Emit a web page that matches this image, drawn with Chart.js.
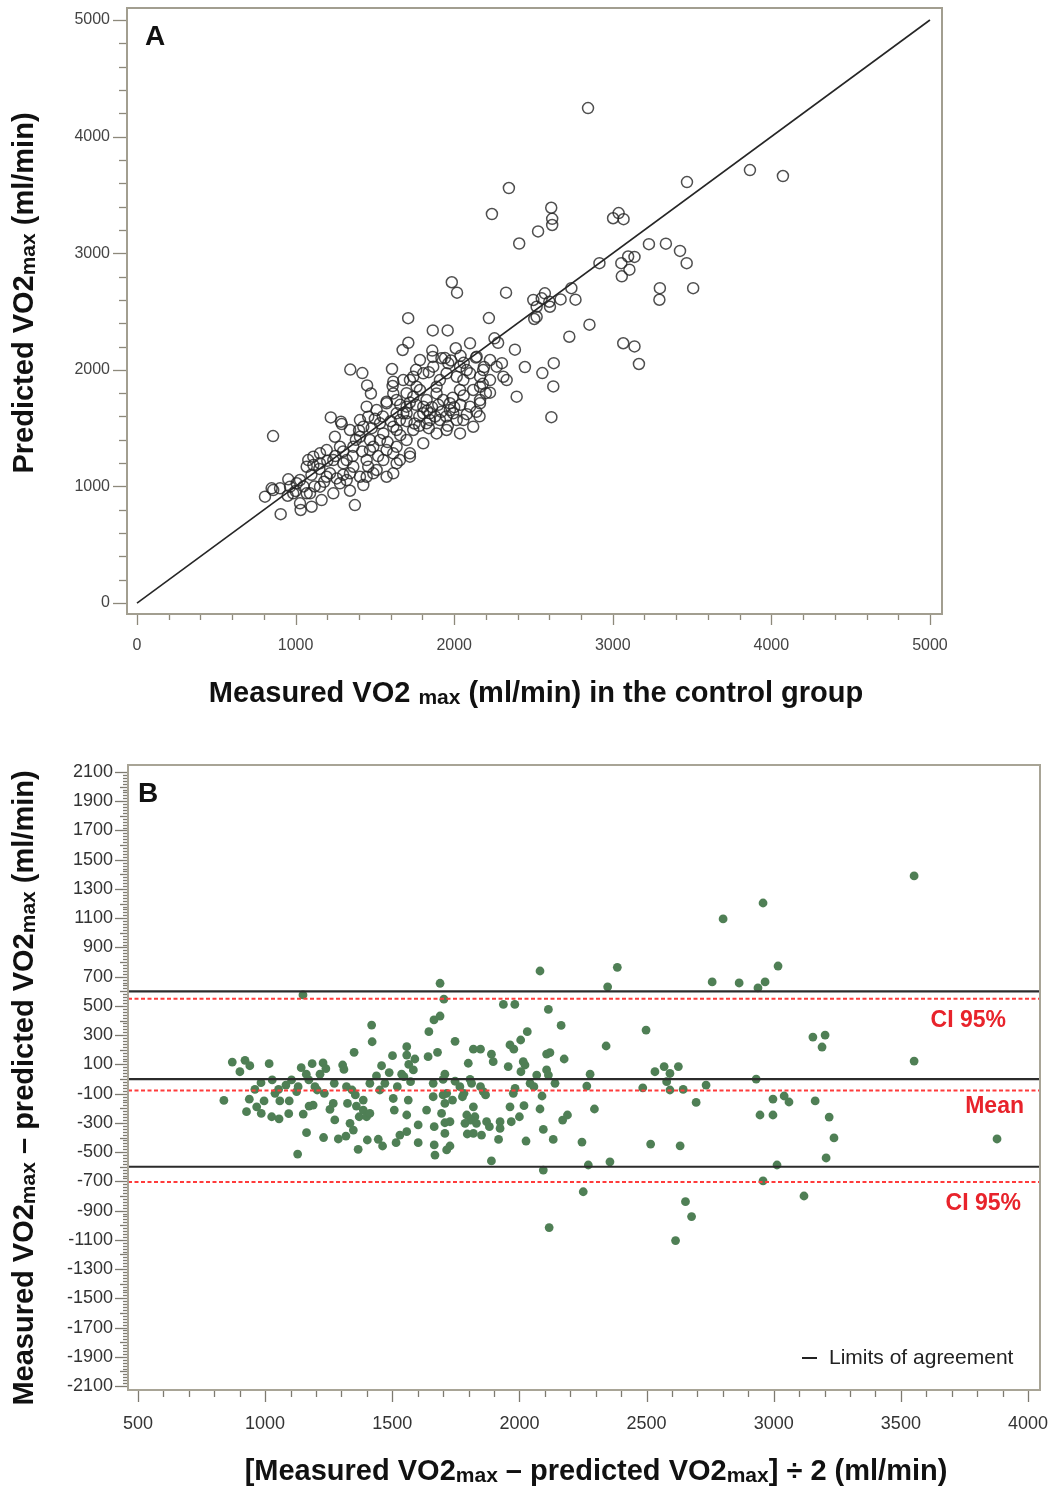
<!DOCTYPE html>
<html>
<head>
<meta charset="utf-8">
<script src="https://cdn.jsdelivr.net/npm/chart.js@4.4.1/dist/chart.umd.min.js"></script>
<style>
  body { margin: 0; background: #fff; }
  #wrap { position: relative; width: 1056px; height: 1488px; }
  canvas { position: absolute; left: 0; }
  #chart-a { top: 0; }
  #chart-b { top: 730px; }
</style>
</head>
<body>
<div id="wrap">
  <canvas id="chart-a" width="1056" height="730"></canvas>
  <canvas id="chart-b" width="1056" height="758"></canvas>
</div>
<script>
// Panel A: measured vs predicted VO2max in the control group (ml/min), [measured, predicted]
const pointsA = [
  [2844,4245],[3865,3713],[4073,3662],[3468,3610],[2345,3559],[2238,3336],[2612,3390],[2618,3295],
  [2618,3242],[2529,3187],[2410,3083],[3002,3300],[3037,3344],[3068,3292],[3228,3078],[3335,3082],
  [3424,3020],[3466,2915],[2916,2915],[3054,2915],[3097,2972],[3137,2968],[3105,2859],[3057,2802],
  [3297,2700],[3294,2601],[3507,2700],[2739,2700],[2765,2602],[2327,2662],[2499,2599],[2520,2541],
  [2552,2613],[2572,2656],[2604,2541],[2600,2584],[2671,2604],[2505,2436],[2219,2444],[2726,2284],
  [2853,2387],[3066,2228],[3137,2201],[3165,2050],[2383,2173],[2446,2024],[2556,1972],[2628,2057],
  [2625,1858],[2394,1770],[2613,1594],[2254,2270],[2277,2232],[2301,2057],[2188,2024],[2137,2105],
  [2226,1804],[2160,1601],[2331,1912],[1985,2751],[2018,2662],[1710,2443],[1711,2232],[1675,2170],
  [1608,2007],[1345,2002],[1421,1972],[1451,1866],[1475,1797],[1865,2338],[1959,2338],[2010,2185],
  [1862,2165],[1865,2111],[1942,2101],[858,1432],[1222,1592],
  [1612,1861],[1291,1535],[1248,1426],[807,912],[849,984],[954,1061],[906,762],[1032,798],
  [1101,826],[1164,883],[1343,963],[1374,840],[1427,1012],[1259,1069],[1112,1183],[1154,1284],
  [1080,1226],[1028,1055],[985,941],[1070,941],[1196,1083],[1238,1226],[1322,1226],[1364,1340],
  [1406,1426],[1364,1169],[1448,1226],[1490,1340],[1532,1398],[1490,1112],[1553,1226],[1616,1112],
  [1427,1512],[1458,1598],[1448,1684],[1511,1655],[1574,1713],[1532,1541],[1553,1455],[1616,1512],
  [1658,1569],[1679,1627],[1700,1684],[1637,1741],[1721,1912],[1742,1769],[1784,1827],[1805,1684],
  [1847,1627],[1826,1541],[1742,1484],[1700,1398],[1637,1340],[1658,1226],[1721,1284],[1805,1370],
  [1889,1455],[1952,1484],[1910,1569],[1994,1627],[2058,1569],[2100,1684],[1973,1713],[1889,1798],
  [1910,1912],[1868,2027],[1963,2056],[2016,1941],[2079,1998],[2100,2227],[2163,1941],[2120,1827],
  [2037,1827],[1805,1970],[1784,2084],[1742,1941],[1679,1912],[1616,1798],[1406,1569],[1343,1484],
  [1280,1340],[1196,1312],[1112,1255],[1322,1055],[1406,1083],[1458,1169],[1574,1312],[1469,1398],
  [2037,1455],[2120,1512],[2163,1741],[2058,1912],[2268,2027],[2310,1941],[2520,2455],[1286,1555],
  [1616,1898],[1574,1727],[1637,1627],[1637,1484],[1700,1627],[1763,1855],[1805,1627],[1931,1741],
  [1973,1655],[2016,1569],[2163,1713],[2163,1855],[2100,1970],[2037,2027],[2183,1998],[2226,1912],
  [2226,2084],[1952,1970],[1889,1855],[1826,1741],[1847,1569],[1721,1255],[1637,1198],[1469,1312],
  [1301,1198],[1217,1112],[1154,1198],[1070,1169],[965,998],[1091,941],[1154,998],[1238,941],
  [1280,1027],[1343,1112],[1448,1083],[1511,1141],[1574,1083],[1616,1284],[859,969],[902,984],
  [1007,1027],[1028,855],[2142,2113],
  [1760,1700],[1780,1600],[1860,1680],[1900,1700],[1920,1640],[1950,1600],[1880,1600],[1830,1650],
  [1720,1720],[1990,1760],[2040,1700],[2060,1780],[1700,1560],[1750,1540],[1600,1560],[1550,1600],
  [1500,1580],[1480,1500],[1400,1480],[1380,1400],[1300,1300],[1250,1260],[1200,1220],[1150,1150],
  [1100,1100],[1050,1000],[1000,960],[950,920],[1120,1000],[1180,1040],[1300,1100],[1360,1260],
  [1420,1300],[1520,1260],[1580,1380],[1660,1440],[1780,1520],[1840,1500],[1960,1520],[2000,1680],
  [2080,1620],[2140,1640],[2200,1800],[2180,1880],[2040,2120],[2060,2060],[1980,2080],[1920,2100],
  [1840,1980],[1760,2000],[1700,1800],[1660,1700]
];
const identityEnds = [0, 5000];
const ticksA = [0, 1000, 2000, 3000, 4000, 5000];

// Panel B: Bland-Altman, [mean of pair, difference]
const pointsB = [
  [3552,1389],[2958,1204],[2801,1095],[3017,773],[2758,664],[2864,657],[2966,664],[2938,623],
  [3154,287],[3202,301],[3190,219],[3552,123],[2931,0],[2734,-41],[2997,-137],[3041,-116],
  [3060,-157],[3163,-150],[2946,-246],[2997,-246],[3218,-260],[3237,-403],[3878,-410],[3206,-540],
  [3013,-588],[2958,-697],[3119,-800],[2117,-1016],[2653,-839],[2677,-941],[2614,-1105],[1149,575],
  [871,116],[901,50],[921,128],[940,91],[1016,105],[838,-146],[927,-223],[938,-138],
  [960,-71],[984,-25],[967,-190],[985,-235],[996,-150],[1028,-6],[1039,-98],[1053,-71],
  [1026,-258],[1055,-272],[1058,-150],[1093,-237],[1095,-150],[1082,-41],[1104,-6],[1124,-86],
  [1130,-52],[1128,-513],[1142,78],[1162,33],[1185,105],[1172,-6],[1196,-52],[1205,-75],
  [1150,-240],[1163,-367],[1173,-185],[1189,-178],[1228,110],[1239,71],[1216,33],[1233,-98],
  [1255,-208],[1268,-167],[1230,-400],[1274,-280],[1272,-29],[1305,96],[1310,66],[1288,-410],
  [1318,-390],[1320,-52],[1324,-167],[1334,-303],[1347,-349],[1350,183],[1342,-75],[1355,-109],
  [1366,-481],[1359,-185],[1370,-258],[1386,-212],[1386,-144],[1399,-258],[1412,-235],[1402,-417],
  [1412,-29],[1421,255],[1419,369],[1438,21],[1445,-412],[1458,91],[1451,-75],[1462,-458],
  [1471,-29],[1488,44],[1501,160],[1504,-133],[1508,-212],[1515,-435],[1520,-52],[1530,-383],
  [1537,33],[1546,16],[1557,221],[1557,164],[1557,-246],[1563,-144],[1557,-360],[1565,100],
  [1572,-18],[1589,137],[1583,62],[1602,-314],[1602,-435],[1635,-212],[1641,153],[1644,324],
  [1664,404],[1661,-121],[1665,-326],[1665,-451],[1678,183],[1668,-520],[1707,33],[1694,-235],
  [1661,-29],
  [1688,655],[1703,546],[1688,431],[2081,739],[2385,764],[2347,631],[1937,510],[1982,510],
  [2114,476],[2164,367],[2031,324],[2005,267],[1963,233],[1978,204],[1747,258],[1819,204],
  [1847,204],[1890,170],[1897,119],[1799,108],[1956,85],[2015,119],[2022,96],[2107,171],
  [2120,180],[2176,137],[2006,50],[2068,27],[2107,62],[2114,27],[2140,-29],[2341,226],
  [2498,335],[2278,33],[2265,-48],[2533,50],[2569,85],[2592,38],[2625,85],[2579,-18],
  [2592,-75],[2485,-60],[2644,-71],[2695,-160],[1747,-15],[1700,-3],[1806,-3],[1812,-29],
  [1714,-98],[1700,-109],[1766,-52],[1782,-98],[1776,-121],[1847,-52],[1858,-86],[1867,-109],
  [1983,-64],[1976,-98],[2042,-29],[2057,-52],[2089,-116],[2081,-205],[2018,-182],[1963,-190],
  [1819,-190],[1793,-246],[1825,-258],[1808,-281],[1786,-303],[1831,-303],[1727,-292],[1707,-299],
  [1707,-372],[1707,-167],[1737,-144],[1795,-376],[1819,-372],[1851,-383],[1871,-292],[1882,-326],
  [1924,-292],[1924,-338],[1968,-292],[2000,-258],[1918,-413],[2026,-424],[2094,-345],[2133,-413],
  [2170,-281],[2189,-246],[2295,-205],[2246,-431],[2516,-445],[2632,-457],[1727,-458],[1714,-485],
  [1890,-560],[2094,-623],[2271,-588],[2356,-566],[2251,-771]
];
const limitLines = [600, 0, -600];
const ciLines = [550, -78, -705];
const ticksBx = [500, 1000, 1500, 2000, 2500, 3000, 3500, 4000];
const ticksBy = [2100, 1900, 1700, 1500, 1300, 1100, 900, 700, 500, 300, 100,
  -100, -300, -500, -700, -900, -1100, -1300, -1500, -1700, -1900, -2100];

const FONT = "'Liberation Sans', Arial, sans-serif";
const rangeAx = [-63, 5076], rangeAy = [-94, 5103];
const rangeBx = [461, 4047], rangeBy = [-2127, 2148];

// draw text made of parts with different sizes (for the small "max")
function drawRich(ctx, parts, x, y, rotate) {
  ctx.save();
  ctx.translate(x, y);
  if (rotate) ctx.rotate(-Math.PI / 2);
  ctx.fillStyle = '#111';
  ctx.textAlign = 'left';
  ctx.textBaseline = 'alphabetic';
  let total = 0;
  parts.forEach(p => {
    ctx.font = `bold ${p.size}px ${FONT}`;
    p.w = ctx.measureText(p.text).width;
    total += p.w;
  });
  let cx = -total / 2;
  parts.forEach(p => {
    ctx.font = `bold ${p.size}px ${FONT}`;
    ctx.fillText(p.text, cx, p.dy || 0);
    cx += p.w;
  });
  ctx.restore();
}

function tickRange(from, to, step) {
  const out = [];
  for (let v = from; v <= to; v += step) out.push(v);
  return out;
}

// keep the plot area where the layout padding puts it
function noPad(s) {
  s.paddingTop = 0;
  s.paddingBottom = 0;
  s.paddingLeft = 0;
  s.paddingRight = 0;
}

// frame, tick marks, titles
function decor(cfg) {
  return {
    id: 'decor',
    afterDraw(chart) {
      const ctx = chart.ctx;
      const a = chart.chartArea;
      const xs = chart.scales.x, ys = chart.scales.y;
      ctx.save();
      ctx.strokeStyle = cfg.tickColor;
      ctx.lineWidth = 1.3;
      cfg.xTicks.forEach(t => {
        const px = Math.round(xs.getPixelForValue(t.v)) + 0.5;
        ctx.beginPath();
        ctx.moveTo(px, a.bottom + 1);
        ctx.lineTo(px, a.bottom + 1 + t.len);
        ctx.stroke();
      });
      cfg.yTicks.forEach(t => {
        const py = Math.round(ys.getPixelForValue(t.v)) + 0.5;
        ctx.beginPath();
        ctx.moveTo(a.left - 1, py);
        ctx.lineTo(a.left - 1 - t.len, py);
        ctx.stroke();
      });
      ctx.strokeStyle = cfg.frameColor;
      ctx.lineWidth = 2;
      ctx.strokeRect(a.left, a.top, a.right - a.left, a.bottom - a.top);
      ctx.restore();

      ctx.save();
      ctx.fillStyle = '#111';
      ctx.font = `bold 28px ${FONT}`;
      ctx.fillText(cfg.panel, a.left + cfg.panelDx, a.top + 37);
      ctx.restore();

      drawRich(ctx, cfg.yTitle, 33, cfg.yTitleY, true);
      drawRich(ctx, cfg.xTitle, cfg.xTitleX, cfg.xTitleY, false);
      if (cfg.extra) cfg.extra(chart);
    }
  };
}

const sub = (t) => ({ text: t, size: 21, dy: 2 });
const big = (t) => ({ text: t, size: 29 });

// ---- Panel A ----
new Chart(document.getElementById('chart-a'), {
  type: 'scatter',
  data: {
    datasets: [
      {
        data: identityEnds.map(v => ({ x: v, y: v })),
        showLine: true,
        borderColor: '#262626',
        borderWidth: 1.6,
        pointRadius: 0
      },
      {
        data: pointsA.map(p => ({ x: p[0], y: p[1] })),
        pointRadius: 5.5,
        pointBorderWidth: 1.5,
        pointBorderColor: 'rgba(35,35,35,0.8)',
        pointBackgroundColor: 'rgba(0,0,0,0)'
      }
    ]
  },
  options: {
    responsive: false,
    animation: false,
    devicePixelRatio: 1,
    layout: { padding: { left: 0, top: 8, right: 114, bottom: 0 } },
    plugins: { legend: { display: false }, tooltip: { enabled: false } },
    scales: {
      x: {
        type: 'linear', min: rangeAx[0], max: rangeAx[1],
        grid: { display: false, drawTicks: false },
        border: { display: false },
        afterBuildTicks: s => { s.ticks = ticksA.map(v => ({ value: v })); },
        afterFit: s => { s.height = 116; noPad(s); },
        ticks: { padding: 22, color: '#444', font: { family: FONT, size: 16 },
          maxRotation: 0, autoSkip: false, callback: v => String(v) }
      },
      y: {
        type: 'linear', min: rangeAy[0], max: rangeAy[1],
        grid: { display: false, drawTicks: false },
        border: { display: false },
        afterBuildTicks: s => { s.ticks = ticksA.map(v => ({ value: v })); },
        afterFit: s => { s.width = 127; noPad(s); },
        ticks: { padding: 17, color: '#444', font: { family: FONT, size: 16 },
          autoSkip: false, callback: v => String(v) }
      }
    }
  },
  plugins: [decor({
    panel: 'A', panelDx: 18,
    tickColor: '#8d897b', frameColor: '#a29e90',
    xTicks: tickRange(0, 5000, 200).map(v => ({ v, len: v % 1000 === 0 ? 10 : 5 })),
    yTicks: tickRange(0, 5000, 200).map(v => ({ v, len: v % 1000 === 0 ? 13 : 7 })),
    yTitle: [big('Predicted VO2'), sub('max'), big(' (ml/min)')],
    yTitleY: 293,
    xTitle: [big('Measured VO2 '), sub('max'), big(' (ml/min) in the control group')],
    xTitleX: 536, xTitleY: 702
  })]
});

// ---- Panel B ----
const lineData = v => rangeBx.map(x => ({ x, y: v }));

new Chart(document.getElementById('chart-b'), {
  type: 'scatter',
  data: {
    datasets: [
      ...limitLines.map(v => ({
        data: lineData(v), showLine: true, borderColor: '#2b2b2b', borderWidth: 2.2, pointRadius: 0
      })),
      ...ciLines.map(v => ({
        data: lineData(v), showLine: true, borderColor: '#ff3b3b', borderWidth: 2,
        borderDash: [4, 2.5], pointRadius: 0
      })),
      {
        data: pointsB.map(p => ({ x: p[0], y: p[1] })),
        pointRadius: 4.4,
        pointBorderWidth: 0,
        pointBackgroundColor: '#4f7f55'
      }
    ]
  },
  options: {
    responsive: false,
    animation: false,
    devicePixelRatio: 1,
    layout: { padding: { left: 0, top: 35, right: 16, bottom: 0 } },
    plugins: { legend: { display: false }, tooltip: { enabled: false } },
    scales: {
      x: {
        type: 'linear', min: rangeBx[0], max: rangeBx[1],
        grid: { display: false, drawTicks: false },
        border: { display: false },
        afterBuildTicks: s => { s.ticks = ticksBx.map(v => ({ value: v })); },
        afterFit: s => { s.height = 98; noPad(s); },
        ticks: { padding: 23, color: '#333', font: { family: FONT, size: 18 },
          maxRotation: 0, autoSkip: false, callback: v => String(v) }
      },
      y: {
        type: 'linear', min: rangeBy[0], max: rangeBy[1],
        grid: { display: false, drawTicks: false },
        border: { display: false },
        afterBuildTicks: s => { s.ticks = ticksBy.map(v => ({ value: v })); },
        afterFit: s => { s.width = 128; noPad(s); },
        ticks: { padding: 15, color: '#333', font: { family: FONT, size: 18 },
          autoSkip: false, callback: v => String(v) }
      }
    }
  },
  plugins: [decor({
    panel: 'B', panelDx: 10,
    tickColor: '#7d7a70', frameColor: '#a8a496',
    xTicks: tickRange(500, 4000, 100).map(v => ({ v, len: v % 500 === 0 ? 11 : 6 })),
    yTicks: tickRange(-2100, 2100, 20).map(v => ({
      v, len: ticksBy.includes(v) ? 12 : (v % 100 === 0 ? 7 : 4)
    })),
    yTitle: [big('Measured VO2'), sub('max'), big(' \u2013 predicted VO2'), sub('max'), big(' (ml/min)')],
    yTitleY: 358,
    xTitle: [big('[Measured VO2'), sub('max'), big(' \u2013 predicted VO2'), sub('max'), big('] \u00f7 2 (ml/min)')],
    xTitleX: 596, xTitleY: 750,
    extra(chart) {
      const ctx = chart.ctx;
      const a = chart.chartArea;
      const ys = chart.scales.y;
      ctx.save();
      ctx.fillStyle = '#e8232b';
      ctx.font = `bold 23px ${FONT}`;
      ctx.textAlign = 'right';
      ctx.textBaseline = 'middle';
      ctx.fillText('CI 95%', a.right - 34, ys.getPixelForValue(400));
      ctx.fillText('Mean', a.right - 16, ys.getPixelForValue(-190));
      ctx.fillText('CI 95%', a.right - 19, ys.getPixelForValue(-855));
      // legend entry
      const ly = a.bottom - 32;
      ctx.strokeStyle = '#222';
      ctx.lineWidth = 2;
      ctx.beginPath();
      ctx.moveTo(a.right - 238, ly);
      ctx.lineTo(a.right - 223, ly);
      ctx.stroke();
      ctx.fillStyle = '#222';
      ctx.font = `21px ${FONT}`;
      ctx.textAlign = 'left';
      ctx.fillText('Limits of agreement', a.right - 211, ly);
      ctx.restore();
    }
  })]
});
</script>
</body>
</html>
